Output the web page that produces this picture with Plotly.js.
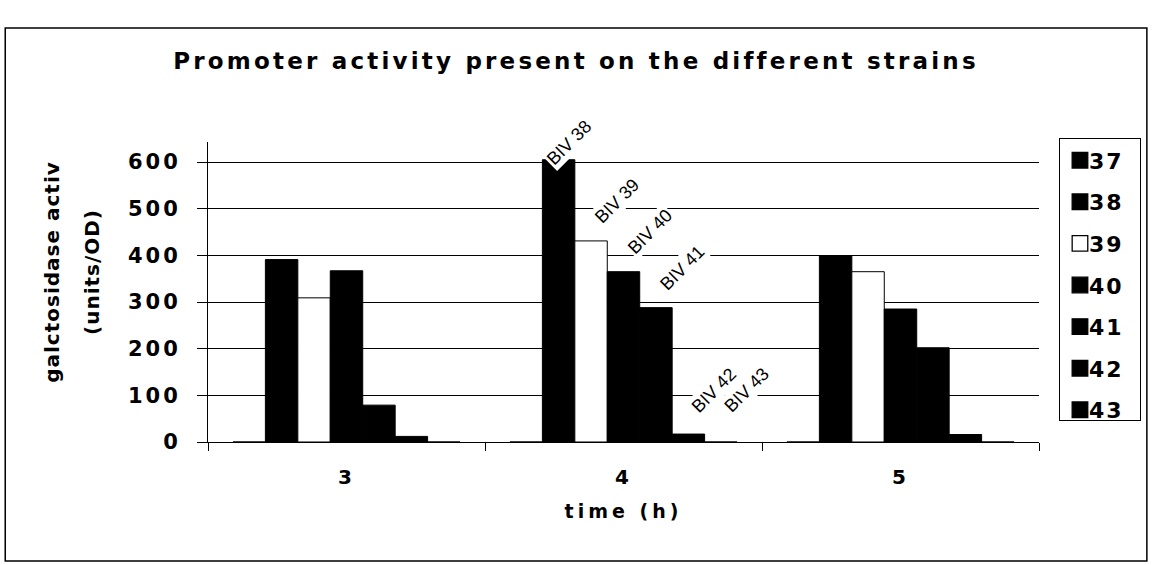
<!DOCTYPE html>
<html><head><meta charset="utf-8">
<script src="https://cdn.plot.ly/plotly-3.0.1.min.js"></script>
<style>
html,body{margin:0;padding:0;background:#fff;}
#chart{width:1152px;height:565px;}
.gtitle{letter-spacing:3.2px;}
.xtick text,.ytick text{letter-spacing:3px;}
.xtitle{letter-spacing:4px;}
.ytitle{letter-spacing:1px;}
.legendtext{letter-spacing:2px;}
</style></head><body><div id="chart"></div>
<script>
// ---- data ----
const categories = ['3', '4', '5'];               // time (h)
const seriesNames = ['37', '38', '39', '40', '41', '42', '43'];
const s37 = [0, 0, 0];
const s38 = [391, 605, 399];
const s39 = [309, 431, 365];
const s40 = [367, 365, 285];
const s41 = [79, 288, 202];
const s42 = [12, 17, 16];
const s43 = [0, 0, 0];
const seriesValues = [s37, s38, s39, s40, s41, s42, s43];
const labelCategory = '4';
const labelSeries = ['38', '39', '40', '41', '42', '43'];
const labelTexts = ['BIV 38', 'BIV 39', 'BIV 40', 'BIV 41', 'BIV 42', 'BIV 43'];
const yTickVals = [0, 100, 200, 300, 400, 500, 600];

// ---- styling ----
const fillColors = ['#000', '#000', '#fff', '#000', '#000', '#000', '#000'];
const BARGAP = 0.18;
const FONT = 'DejaVu Sans, Arial, sans-serif';
const LABEL_MAX = 556;

const traces = seriesNames.map((name, i) => ({
  type: 'bar',
  name: name,
  x: categories,
  y: seriesValues[i],
  legendgroup: 'g' + i,
  marker: {color: fillColors[i], line: {color: '#000', width: 1}},
  hoverinfo: 'x+y+name'
}));

const N = seriesNames.length;
const catIdx = categories.indexOf(labelCategory);
const annotations = labelSeries.map((s, k) => {
  const i = seriesNames.indexOf(s);
  const off = -(1 - BARGAP) / 2 + (i + 0.5) * (1 - BARGAP) / N;
  const v = seriesValues[i][catIdx];
  const clamped = v > LABEL_MAX;
  return {
    x: catIdx + off, y: Math.min(Math.max(v, 25), LABEL_MAX),
    xref: 'x', yref: 'y', text: labelTexts[k], showarrow: false,
    textangle: -45, xshift: clamped ? 10 : 26, yshift: 40,
    font: {family: 'Liberation Sans, Arial, sans-serif', size: 18, color: '#000'},
    bgcolor: '#fff', borderpad: 1
  };
});

const layout = {
  width: 1152, height: 565, autosize: false,
  paper_bgcolor: '#fff', plot_bgcolor: '#fff',
  margin: {l: 208, r: 112, t: 142, b: 123, pad: 0},
  barmode: 'group', bargap: BARGAP, bargroupgap: 0,
  font: {family: FONT, color: '#000'},
  title: {
    text: 'Promoter activity present on the different strains',
    font: {family: FONT, size: 23, weight: 'bold', color: '#000'},
    x: 0.5, xref: 'container', xanchor: 'center',
    y: 1 - 61 / 565, yref: 'container', yanchor: 'middle'
  },
  xaxis: {
    type: 'category', range: [-0.5, 2.5],
    showline: true, linecolor: '#000', linewidth: 1,
    ticks: 'outside', tickson: 'boundaries', ticklen: 8, tickcolor: '#000',
    tickfont: {family: FONT, size: 20, weight: 'bold', color: '#000'},
    ticklabelstandoff: 17,
    showgrid: false, zeroline: false,
    title: {text: 'time (h)', font: {family: FONT, size: 19, weight: 'bold', color: '#000'}, standoff: 16}
  },
  yaxis: {
    range: [0, 643], tickvals: yTickVals,
    showline: true, linecolor: '#000', linewidth: 1,
    ticks: 'outside', ticklen: 10, tickcolor: '#000',
    tickfont: {family: FONT, size: 21, weight: 'bold', color: '#000'},
    ticklabelstandoff: 12,
    showgrid: true, gridcolor: '#000', gridwidth: 1, zeroline: false,
    title: {text: 'galctosidase activ<br>(units/OD)', font: {family: FONT, size: 20, weight: 'bold', color: '#000'}, standoff: 36}
  },
  legend: {
    x: 1.0228, xanchor: 'left', y: 1.012, yanchor: 'top',
    bgcolor: '#fff', bordercolor: '#000', borderwidth: 1,
    font: {family: FONT, size: 22, weight: 'bold', color: '#000'},
    tracegroupgap: 10, itemwidth: 30, traceorder: 'grouped'
  },
  annotations: annotations,
  shapes: [{
    type: 'rect', xref: 'paper', yref: 'paper',
    x0: (5 - 208) / 832, x1: (1148 - 208) / 832,
    y0: (442 - 561) / 300, y1: (442 - 28) / 300,
    line: {color: '#000', width: 1.5}, fillcolor: 'rgba(0,0,0,0)', layer: 'below'
  }]
};

Plotly.newPlot('chart', traces, layout, {displayModeBar: false, staticPlot: true}).then(() => {
  document.querySelectorAll('.legendpoints path').forEach(p => {
    const t = p.getAttribute('transform') || '';
    p.setAttribute('transform', t + ' scale(1.3)');
  });
  document.querySelectorAll('.legendtext').forEach(t => t.setAttribute('x', '29'));
  const lines = document.querySelectorAll('.ytitle tspan.line');
  if (lines.length > 1) lines[1].setAttribute('dy', '2em');
  const yt = document.querySelector('.g-ytitle');
  if (yt) yt.setAttribute('transform', 'translate(0,-20)');
});
</script></body></html>
